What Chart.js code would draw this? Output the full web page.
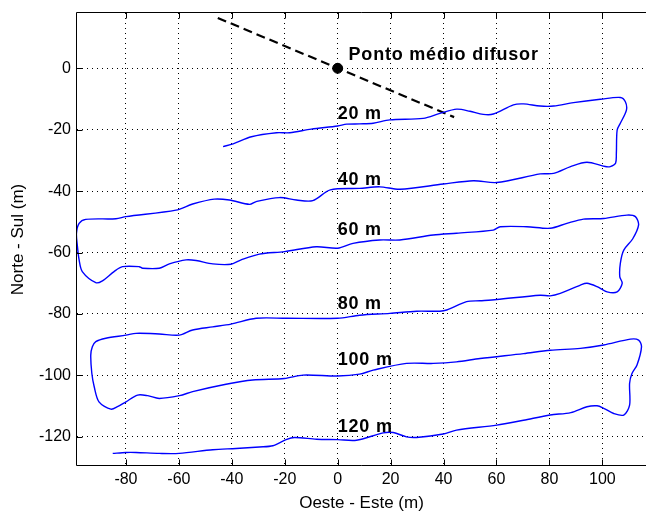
<!DOCTYPE html>
<html>
<head>
<meta charset="utf-8">
<script src="https://cdn.jsdelivr.net/npm/chart.js@4"></script>
<style>
  html, body { margin: 0; padding: 0; background: #fff; }
  #wrap { width: 646px; height: 512px; }
</style>
</head>
<body>
<div id="wrap"><canvas id="chart" width="646" height="512"></canvas></div>
<script>
// trajet du bateau (Oeste - Este, Norte - Sul), en m
const trackX = [-43.3, -39.5, -32.6, -23.1, -18.1, -10, 0, 3.4, 8.3, 13.4, 19.7, 32.3, 38.6, 45, 50, 55, 58.8, 66.4, 70.2, 76.5, 81.6, 89.1, 99.2, 106.8, 108.7, 109.1, 106.8, 105.6, 105.3, 105, 103, 101.1,
  94.2, 88, 81.6, 76.5, 60.1, 51.3, 39.9, 23.5, 15.9, 8.3, -2.8, -9.4, -15.6, -22, -30.8, -33.3, -40.9, -46.6, -54.8, -61.1, -80, -83.8, -95.2, -97.7, -98.7, -98.4, -97.7, -96.5, -91.4, -88.9, -84.5, -81.3,
  -75, -73.7, -67.4, -63.6, -57.3, -53.5, -47.2, -40.3, -36.5, -29.6, -20.1, -8.1, 0, 5.8, 15.9, 23.5, 36.1, 44.9, 58.8, 61.4, 71.5, 80.3, 86.6, 92.9, 100.5, 109.3, 112.5, 113.7, 111.5, 108.1, 106.8, 106.6, 107.5, 105.6,
  101.8, 98, 94.2, 91.7, 84.1, 80.3, 76.5, 60.1, 53.8, 48.7, 41.2, 38.6, 29.8, 19.7, 8.3, 0, -19.4, -30.8, -40.3, -47.2, -54.8, -59.9, -67.4, -76.2, -80, -87.6, -91.4, -92.7, -93.3, -92.9, -92, -90.2, -85.7,
  -83.2, -80, -75.6, -71.8, -67.4, -59.8, -54.8, -42.2, -32.1, -20.1, -13.1, 0, 8.3, 13.4, 26, 36.1, 44.9, 53.8, 70.2, 80.3, 91.7, 100.5, 110.6, 113.7, 114.8, 113.1, 111.2, 110.3, 110.3, 108.1, 104.3,
  100.5, 98, 94.2, 88.1, 80.3, 70.2, 60.1, 44.9, 39.9, 29.8, 26, 21, 17.2, 7.1, 0, -8, -16.3, -19.5, -24.5, -29.6, -38.4, -47.2, -59.9, -67.4, -76.2, -80, -85];
const trackY = [-25.5, -24.6, -22.3, -21, -21, -19.8, -18.8, -18.2, -18.1, -17.9, -16.8, -16.3, -14.7, -13.3, -14, -15, -14.9, -11.9, -11.6, -12.3, -12.3, -11.2, -10.1, -9.5, -10.9, -13.6, -17.9, -20.1, -27.7, -30.9, -32, -32,
  -30.6, -32, -34.2, -34.4, -37.2, -36.6, -37.7, -39.4, -38.6, -39.1, -39.6, -43.1, -42.9, -42.1, -43.4, -44.3, -42.9, -42.6, -44.2, -46.2, -48.3, -49, -49.2, -50.5, -53.7, -57.5, -62.4, -66.2, -69.8, -69.2, -66.2, -64.6,
  -64.6, -65.1, -65.1, -63.7, -62.4, -62.6, -63.7, -63.8, -62.4, -60.5, -59.7, -58.1, -58.6, -57, -55.9, -55.9, -54.3, -53.7, -52.7, -51.6, -51.6, -52.1, -50.5, -49.1, -48.9, -47.8, -48.3, -51, -55.5, -59.2, -63.5, -67.9, -70, -72.8,
  -72.8, -71.1, -70, -70.6, -73.3, -74.1, -73.9, -75.3, -75.7, -76, -78.7, -79.1, -79.1, -79.8, -80.4, -81.4, -81.4, -81.4, -83.3, -84.2, -85.2, -86.9, -86.5, -86.3, -86.9, -87.9, -89, -90.7, -93.4, -99.3, -103.7, -108.6, -111,
  -110.2, -108.6, -106.4, -106.6, -107.5, -106.6, -105.3, -102.9, -101.5, -101, -99.9, -100.2, -99.6, -98.3, -96.1, -96.1, -95.6, -94.5, -92.9, -91.8, -91.2, -90.1, -88.2, -88.5, -90.7, -96.6, -99.4, -102.6, -109.7, -112.9, -112.4,
  -110.7, -109.9, -110.2, -112.1, -112.9, -114.6, -116.2, -117.8, -119.1, -120.2, -120, -118.6, -118.7, -121.1, -120.9, -120.8, -120.2, -120.9, -122.9, -123.3, -123.8, -124.2, -125.4, -125.4, -125.1, -125.1, -125.4];

// ligne du diffuseur (tirets) et point médio
const diffX = [-45.3, 44];
const diffY = [16.4, -15.9];
const pointX = [0];
const pointY = [0];

// étiquettes de profondeur
const depthText = ["20 m", "40 m", "60 m", "80 m", "100 m", "120 m"];
const depthX = [0, 0, 0, 0, 0, 0];
const depthY = [-15, -36.3, -52.8, -76.7, -94.9, -116.7];
const pointText = "Ponto médio difusor";
const pointTextX = 4.1;
const pointTextY = 4.3;

const xTicks = [-80, -60, -40, -20, 0, 20, 40, 60, 80, 100];
const yTicks = [-120, -100, -80, -60, -40, -20, 0];

const FONT = "'Liberation Sans', Arial, sans-serif";

function pts(xs, ys) {
  return xs.map((v, i) => ({ x: v, y: ys[i] }));
}

// pas de marge automatique autour des étiquettes
function noPad(s) {
  s.paddingLeft = 0; s.paddingRight = 0; s.paddingTop = 0; s.paddingBottom = 0;
}

// cadre MATLAB : bordure + petits ticks vers l'intérieur + textes
const boxPlugin = {
  id: "box",
  afterDatasetsDraw(chart) {
    const { ctx, chartArea: a, scales } = chart;
    const sx = scales.x, sy = scales.y;
    ctx.save();

    ctx.fillStyle = "#000";
    ctx.textBaseline = "middle";
    ctx.textAlign = "left";
    ctx.font = "bold 18px " + FONT;
    try { ctx.letterSpacing = "0.8px"; } catch (e) {}
    depthText.forEach((t, i) => {
      ctx.fillText(t, sx.getPixelForValue(depthX[i]), sy.getPixelForValue(depthY[i]));
    });
    ctx.fillText(pointText, sx.getPixelForValue(pointTextX), sy.getPixelForValue(pointTextY));
    try { ctx.letterSpacing = "0px"; } catch (e) {}

    ctx.strokeStyle = "#000";
    ctx.lineWidth = 1;
    const L = Math.round(a.left) - 0.5, T = Math.round(a.top) - 0.5, B = Math.round(a.bottom) - 0.5;
    ctx.beginPath();
    ctx.moveTo(a.right + 2, T);
    ctx.lineTo(L, T);
    ctx.lineTo(L, B);
    ctx.lineTo(a.right + 2, B);
    const tl = 6;
    xTicks.forEach(v => {
      const px = Math.round(sx.getPixelForValue(v)) + 0.5;
      ctx.moveTo(px, B); ctx.lineTo(px, B - tl);
      ctx.moveTo(px, T); ctx.lineTo(px, T + tl);
    });
    yTicks.forEach(v => {
      const py = Math.round(sy.getPixelForValue(v)) + 0.5;
      ctx.moveTo(L, py); ctx.lineTo(L + tl, py);
    });
    ctx.stroke();
    ctx.restore();
  }
};

new Chart(document.getElementById("chart"), {
  type: "scatter",
  data: {
    datasets: [
      {
        data: pts(trackX, trackY),
        showLine: true,
        borderColor: "#0000ff",
        borderWidth: 1.4,
        pointRadius: 0,
        tension: 0.3
      },
      {
        data: pts(diffX, diffY),
        showLine: true,
        borderColor: "#000",
        borderWidth: 2.2,
        borderDash: [9, 5],
        pointRadius: 0
      },
      {
        data: pts(pointX, pointY),
        backgroundColor: "#000",
        borderColor: "#000",
        pointRadius: 5
      }
    ]
  },
  options: {
    responsive: false,
    animation: false,
    layout: { autoPadding: false, padding: { top: 13, right: 0, bottom: 0, left: 0 } },
    plugins: {
      legend: { display: false },
      tooltip: { enabled: false }
    },
    scales: {
      x: {
        type: "linear",
        min: -98.5,
        max: 116.5,
        afterBuildTicks: s => { s.ticks = xTicks.map(v => ({ value: v })); },
        afterFit: s => { s.height = 46; noPad(s); },
        grid: { color: "#000", lineWidth: 1, drawTicks: false },
        border: { display: false, dash: [1, 4] },
        ticks: { color: "#000", padding: 4, maxRotation: 0, font: { family: FONT, size: 16 } },
        title: {
          display: true,
          text: "Oeste - Este (m)",
          color: "#000",
          padding: { top: 0, bottom: 0 },
          font: { family: FONT, size: 17, lineHeight: 1 }
        }
      },
      y: {
        type: "linear",
        min: -129.5,
        max: 18,
        afterBuildTicks: s => { s.ticks = yTicks.map(v => ({ value: v })); },
        afterFit: s => { s.width = 77; noPad(s); },
        grid: { color: "#000", lineWidth: 1, drawTicks: false },
        border: { display: false, dash: [1, 4] },
        ticks: { color: "#000", padding: 6, font: { family: FONT, size: 16 } },
        title: {
          display: true,
          text: "Norte - Sul (m)",
          color: "#000",
          padding: { top: 10, bottom: 0 },
          font: { family: FONT, size: 17, lineHeight: 1 }
        }
      }
    }
  },
  plugins: [boxPlugin]
});
</script>
</body>
</html>
